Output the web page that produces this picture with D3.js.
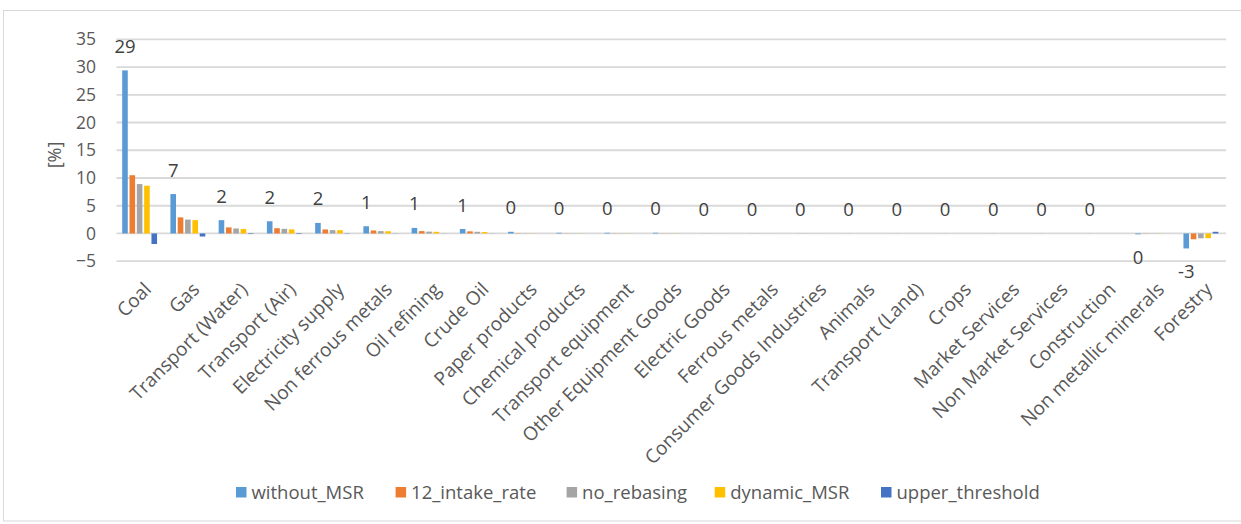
<!DOCTYPE html>
<html>
<head>
<meta charset="utf-8">
<script src="https://cdn.jsdelivr.net/npm/d3@7"></script>
<style>
  html, body { margin: 0; padding: 0; background: #fff; }
  svg { display: block; font-family: "Open Sans", "Noto Sans", sans-serif; }
</style>
</head>
<body>
<svg id="chart" width="1241" height="524"></svg>
<script>
// Sectors, in plotting order
const categories = [
  "Coal", "Gas", "Transport (Water)", "Transport (Air)", "Electricity supply",
  "Non ferrous metals", "Oil refining", "Crude Oil", "Paper products",
  "Chemical products", "Transport equipment", "Other Equipment Goods",
  "Electric Goods", "Ferrous metals", "Consumer Goods Industries", "Animals",
  "Transport (Land)", "Crops", "Market Services", "Non Market Services",
  "Construction", "Non metallic minerals", "Forestry"
];

// Change per sector and scenario, in percent
const withoutMSR     = [29.4, 7.1, 2.4, 2.2, 1.9, 1.3, 1.0, 0.8, 0.3, 0.12, 0.12, 0.12, 0.02, 0.02, 0.02, 0.01, 0.01, 0.01, 0.01, 0.01, 0.01, -0.15, -2.7];
const intakeRate12   = [10.5, 2.9, 1.1, 0.95, 0.72, 0.54, 0.42, 0.38, 0.05, 0.03, 0.03, 0.03, 0.01, 0.01, 0.01, 0.0, 0.0, 0.0, 0.0, 0.0, 0.0, -0.04, -1.05];
const noRebasing     = [8.9, 2.5, 0.9, 0.83, 0.6, 0.42, 0.33, 0.3, 0.04, 0.03, 0.03, 0.03, 0.01, 0.01, 0.01, 0.0, 0.0, 0.0, 0.0, 0.0, 0.0, -0.03, -0.87];
const dynamicMSR     = [8.6, 2.4, 0.8, 0.74, 0.6, 0.4, 0.3, 0.25, 0.04, 0.03, 0.03, 0.03, 0.01, 0.01, 0.01, 0.0, 0.0, 0.0, 0.0, 0.0, 0.0, -0.03, -0.85];
const upperThreshold = [-1.9, -0.55, -0.1, -0.1, -0.05, -0.03, -0.02, -0.02, 0.0, 0.0, 0.0, 0.0, 0.0, 0.0, 0.0, 0.0, 0.0, 0.0, 0.0, 0.0, 0.0, 0.0, 0.3];

const seriesNames  = ["without_MSR", "12_intake_rate", "no_rebasing", "dynamic_MSR", "upper_threshold"];
const seriesValues = [withoutMSR, intakeRate12, noRebasing, dynamicMSR, upperThreshold];
const seriesColors = ["#5B9BD5", "#ED7D31", "#A5A5A5", "#FFC000", "#4472C4"];

const yTicks = [-5, 0, 5, 10, 15, 20, 25, 30, 35];

const svg = d3.select("#chart");
const plot = { left: 116.5, right: 1226, top: 39.3, bottom: 261.2 };

// outer chart frame
svg.append("rect")
  .attr("x", 3.5).attr("y", 10.5)
  .attr("width", 1250).attr("height", 510.5)
  .attr("fill", "none").attr("stroke", "#d9d9d9").attr("stroke-width", 1);

const y = d3.scaleLinear().domain([-5, 35]).range([plot.bottom, plot.top]);
const x0 = d3.scaleBand().domain(categories).range([plot.left, plot.right]).padding(0);
const groupWidth = x0.bandwidth() * 0.723;
const x1 = d3.scaleBand().domain(seriesNames).range([0, groupWidth]).paddingInner(0.236).paddingOuter(0);

// horizontal gridlines
svg.append("g").selectAll("line")
  .data(yTicks).join("line")
  .attr("x1", plot.left).attr("x2", plot.right)
  .attr("y1", d => y(d)).attr("y2", d => y(d))
  .attr("stroke", "#d9d9d9").attr("stroke-width", 1.8);

// y axis labels
const yAxis = d3.axisLeft(y).tickValues(yTicks).tickSize(0).tickPadding(0);
const yg = svg.append("g").attr("transform", "translate(96,0)").call(yAxis);
yg.select(".domain").remove();
yg.selectAll("text")
  .attr("fill", "#595959").attr("font-size", 17.5)
  .attr("font-family", "'Open Sans', sans-serif");

// y axis title
svg.append("text")
  .attr("transform", "translate(61,155) rotate(-90)")
  .attr("text-anchor", "middle")
  .attr("fill", "#595959").attr("font-size", 18)
  .text("[%]");

// bars
const groups = svg.append("g").selectAll("g")
  .data(categories).join("g")
  .attr("transform", d => `translate(${x0(d) + (x0.bandwidth() - groupWidth) / 2 - 1},0)`);

groups.selectAll("rect")
  .data((d, i) => seriesNames.map((s, k) => ({ s, v: seriesValues[k][i], c: seriesColors[k] })))
  .join("rect")
  .attr("x", d => x1(d.s))
  .attr("width", x1.bandwidth())
  .attr("y", d => y(Math.max(0, d.v)))
  .attr("height", d => Math.abs(y(d.v) - y(0)))
  .attr("fill", d => d.c);

// value labels for the without_MSR series
const fmt = v => { const r = Math.round(v); return (r === 0 ? 0 : r).toString(); };
svg.append("g").selectAll("text")
  .data(categories).join("text")
  .attr("x", (d, i) => x0(d) + (x0.bandwidth() - groupWidth) / 2 - 1 + x1(seriesNames[0]) + x1.bandwidth() / 2)
  .attr("y", (d, i) => withoutMSR[i] >= 0 ? y(withoutMSR[i]) - 17.5 : y(withoutMSR[i]) + 30)
  .attr("text-anchor", "middle")
  .attr("fill", "#404040").attr("font-size", 18.5)
  .text((d, i) => fmt(withoutMSR[i]));

// category labels, rotated
svg.append("g").selectAll("text")
  .data(categories).join("text")
  .attr("transform", d => `translate(${x0(d) + x0.bandwidth() / 2 + 7},286) rotate(-45)`)
  .attr("text-anchor", "end")
  .attr("dy", "0.35em")
  .attr("fill", "#595959").attr("font-size", 19)
  .text(d => d);

// legend
const legendX = [236, 395.6, 566.6, 714.7, 881];
const legend = svg.append("g").selectAll("g")
  .data(seriesNames).join("g")
  .attr("transform", (d, i) => `translate(${legendX[i]},487)`);
legend.append("rect")
  .attr("width", 10.5).attr("height", 10.5)
  .attr("fill", (d, i) => seriesColors[i]);
legend.append("text")
  .attr("x", 15.5).attr("y", 5.5).attr("dy", "0.35em")
  .attr("fill", "#595959").attr("font-size", 18.5)
  .text(d => d);
</script>
</body>
</html>
